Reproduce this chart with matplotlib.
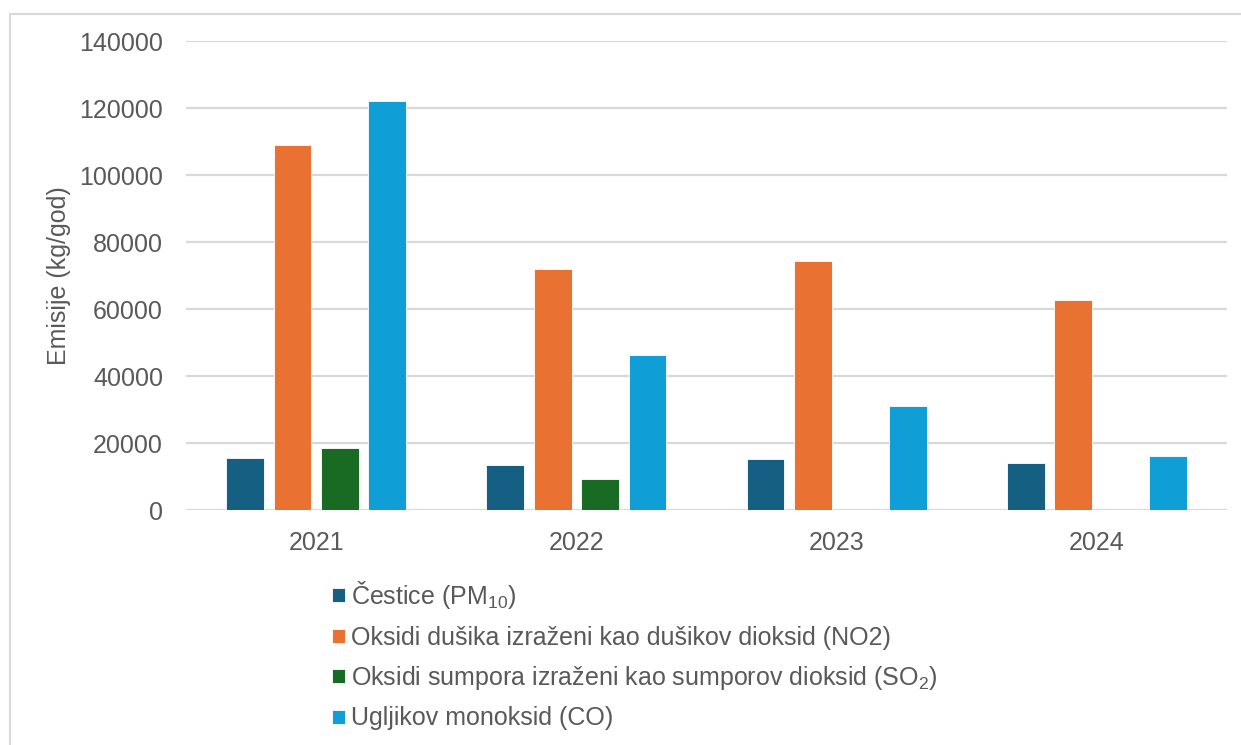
import numpy as np
import matplotlib.pyplot as plt
from matplotlib.patches import Rectangle

plt.rcParams['font.family'] = ['Liberation Sans', 'DejaVu Sans']
plt.rcParams['mathtext.fontset'] = 'custom'
plt.rcParams['mathtext.rm'] = 'Liberation Sans'
plt.rcParams['mathtext.it'] = 'Liberation Sans'

# values (kg/god)
years = ['2021', '2022', '2023', '2024']
pm10 = [15600, 13300, 15100, 13900]
no2 = [109100, 72000, 74200, 62600]
so2 = [18400, 9200, 0, 0]
co = [122100, 46200, 31200, 16000]

labels = ['Čestice (PM$_{10}$)',
          'Oksidi dušika izraženi kao dušikov dioksid (NO2)',
          'Oksidi sumpora izraženi kao sumporov dioksid (SO$_{2}$)',
          'Ugljikov monoksid (CO)']
colors = ['#156082', '#E97132', '#196B24', '#0F9ED5']
series = [pm10, no2, so2, co]

fig = plt.figure(figsize=(12.41, 7.45), dpi=100)
ax = fig.add_axes([0.1499, 0.3154, 0.8388, 0.6295])

# light frame around the chart area
fig.patches.append(Rectangle((10/1241, -0.1), 1.2, (745-14)/745 + 0.1,
                             transform=fig.transFigure, fill=False,
                             edgecolor='#d9d9d9', linewidth=1.5))

x = np.arange(len(years))
pitch = 0.182
width = 0.145
for i, (vals, lab, c) in enumerate(zip(series, labels, colors)):
    ax.bar(x + (i - 1.5) * pitch, vals, width, color=c, label=lab,
           edgecolor='white', linewidth=0.6, zorder=3)

fs = 18
ax.set_xlim(-0.5, 3.5)
ax.set_ylim(0, 140000)
ax.set_yticks(np.arange(0, 140001, 20000))
ax.set_xticks(x)
ax.set_xticklabels(years)
ax.grid(axis='y', color='#d9d9d9', linewidth=1.6, zorder=0)
for s in ax.spines.values():
    s.set_visible(False)
ax.tick_params(length=0, labelsize=fs, colors='#595959')
ax.tick_params(axis='x', pad=15)
ax.tick_params(axis='y', pad=16.5)
ax.set_ylabel('Emisije (kg/god)', fontsize=fs, color='#595959', labelpad=6)

fig.legend(loc='upper left', bbox_to_anchor=(322/1241, 1 - 569/745),
           frameon=False, fontsize=fs, labelcolor='#595959',
           handlelength=0.5, handleheight=0.5, handletextpad=0.25,
           labelspacing=0.58, borderaxespad=0)

fig.savefig('out.png', dpi=100)
